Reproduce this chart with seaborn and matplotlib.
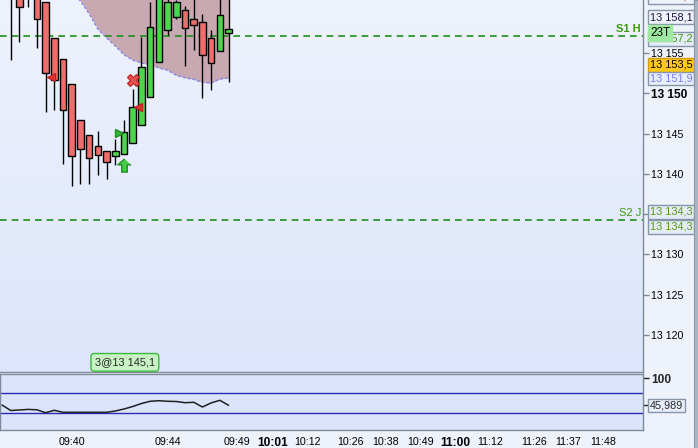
import numpy as np
import pandas as pd
import seaborn as sb
import matplotlib
matplotlib.use("Agg")
import matplotlib.pyplot as plt
from matplotlib.colors import LinearSegmentedColormap
from matplotlib.patches import Rectangle

#### data (bar index, prices)
bar_idx = list(range(26))
opens  = [13166.0, 13163.0, 13165.0, 13163.0, 13161.3, 13156.9, 13154.3, 13151.2, 13146.7, 13144.8,
          13143.5, 13142.9, 13142.2, 13142.5, 13143.8, 13146.1, 13149.6, 13153.9, 13157.9, 13159.5,
          13160.4, 13159.3, 13158.9, 13156.9, 13155.3, 13157.5]
highs  = [13167.0, 13164.0, 13166.0, 13164.0, 13161.4, 13156.9, 13154.3, 13151.2, 13146.7, 13144.8,
          13145.3, 13142.9, 13144.3, 13146.7, 13150.5, 13157.0, 13161.3, 13164.0, 13163.5, 13161.6,
          13160.9, 13162.5, 13159.9, 13157.9, 13162.5, 13162.5]
lows   = [13154.2, 13156.4, 13160.8, 13155.7, 13147.7, 13147.9, 13141.2, 13138.5, 13138.7, 13138.7,
          13139.9, 13139.4, 13141.1, 13142.5, 13143.8, 13146.1, 13149.6, 13153.9, 13157.3, 13159.3,
          13153.4, 13155.4, 13149.4, 13150.4, 13155.3, 13151.4]
closes = [13163.0, 13160.8, 13163.0, 13159.3, 13152.6, 13151.7, 13148.0, 13142.2, 13143.1, 13142.0,
          13142.4, 13141.5, 13142.9, 13145.2, 13148.3, 13153.3, 13158.2, 13163.0, 13161.3, 13161.4,
          13158.1, 13158.5, 13154.8, 13153.8, 13159.8, 13158.0]

cloud_idx = list(range(7, 26))
cloud_low = [13162.5, 13161.5, 13159.9, 13158.0, 13156.9, 13155.9, 13154.8, 13154.15, 13153.8, 13153.55,
             13153.17, 13152.9, 13152.25, 13151.95, 13151.75, 13151.38, 13151.3, 13151.8, 13151.93]

rsi_idx = list(range(-1, 26))
rsi = [46.6, 35.6, 36.6, 37.8, 37.0, 31.2, 36.0, 32.0, 32.0, 32.0, 32.0, 32.0, 32.0, 34.6, 38.6,
       43.6, 49.6, 54.0, 55.2, 54.0, 53.6, 51.2, 52.0, 42.6, 50.8, 56.0, 46.0]

s1_level = 13157.2
s2_level = 13134.3

time_pos = [7, 18, 26, 30, 34, 39, 43, 47, 51, 55, 60, 64, 68]
time_lab = ['09:40', '09:44', '09:49', '10:01', '10:12', '10:26', '10:38', '10:49', '11:00',
            '11:12', '11:26', '11:37', '11:48']
bold_times = ['10:01', '11:00']

price_ticks = [13120, 13125, 13130, 13135, 13140, 13145, 13150, 13155]
##################

df = pd.DataFrame({'idx': bar_idx, 'open': opens, 'high': highs, 'low': lows, 'close': closes})
rsi_df = pd.DataFrame({'idx': rsi_idx, 'rsi': rsi})

sb.set_style("white")
plt.rcParams['font.family'] = ['Liberation Sans', 'DejaVu Sans']

fig = plt.figure(figsize=(6.98, 4.48), dpi=100)
fig.patch.set_facecolor('#eef2fb')
fig.patches.append(Rectangle((694 / 698, 0), 4 / 698, 1, transform=fig.transFigure,
                             fc='#a9b6c3', ec='#8a98a6', lw=0.8, zorder=0))

ax = fig.add_axes([0, 76.3 / 448, 643 / 698, 371.7 / 448])
ax2 = fig.add_axes([0, 18 / 448, 643 / 698, 56 / 448])

XL = (-1.23, 72.55)
YL = (13115.44, 13161.61)

# background gradient
bg = LinearSegmentedColormap.from_list('bg', ['#dce5fb', '#eef2fc'])
ax.imshow(np.linspace(0, 1, 256).reshape(-1, 1), extent=[0, 1, 0, 1], transform=ax.transAxes,
          cmap=bg, aspect='auto', origin='lower', zorder=0)

# cloud
ax.fill_between(cloud_idx, cloud_low, 13175, color='#c9a9b1', lw=0, zorder=1)
ax.plot(cloud_idx, cloud_low, color='#8484f0', lw=1, ls=(0, (2, 1.5)), zorder=1.2)

# support lines
ax.axhline(s1_level, color='#1c8f1c', lw=1.2, ls=(0, (4, 3)), zorder=2)
ax.axhline(s2_level, color='#1c8f1c', lw=1.2, ls=(0, (4, 3)), zorder=2)

# candles
up = df['close'] >= df['open']
ax.vlines(df['idx'], df['low'], df['high'], color='black', lw=1, zorder=3)
ax.bar(df['idx'], (df['close'] - df['open']).abs(), bottom=df[['open', 'close']].min(axis=1),
       width=0.76, color=np.where(up, '#4dd64d', '#ee6d6d'), edgecolor='black', lw=1, zorder=4)

# trade markers
ax.plot([4.6], [13152.1], marker='<', ms=6, color='#e03333', mec='#c02020', ls='none', zorder=5)
ax.plot([14.55], [13148.3], marker='<', ms=6, color='#e03333', mec='#c02020', ls='none', zorder=5)
ax.plot([12.45], [13145.1], marker='>', ms=6, color='#33b833', mec='#1f8f1f', ls='none', zorder=5)
ax.plot([14], [13151.7], marker='X', ms=8.5, color='#ea4f4f', mec='#b82020', mew=0.8, ls='none', zorder=5)
arrow = [(0, 1), (-1, 0.1), (-0.42, 0.1), (-0.42, -1), (0.42, -1), (0.42, 0.1), (1, 0.1)]
ax.plot([13], [13141.1], marker=arrow, ms=9.5, color='#46cc46', mec='#1f8f1f', mew=1, ls='none', zorder=5)

ax.text(13.1, 13116.6, '3@13 145,1', fontsize=7.9, ha='center', va='center', zorder=6,
        bbox=dict(boxstyle='round,pad=0.35,rounding_size=0.3', fc='#c8f2c4', ec='#3cb83c', lw=1))

ax.set_xlim(*XL)
ax.set_ylim(*YL)
ax.set_xticks([])
ax.yaxis.tick_right()
ax.set_yticks(price_ticks, [f"{v // 1000} {v % 1000:03d}" for v in price_ticks])
for t, v in zip(ax.get_yticklabels(), price_ticks):
    t.set_fontsize(8.6 if v == 13150 else 7.7)
    if v == 13150:
        t.set_fontweight('bold')
ax.tick_params(axis='y', length=4, width=1, color='#7d8a98', pad=2, labelcolor='black')
for s in ['left', 'top']:
    ax.spines[s].set_visible(False)
for s in ['right', 'bottom']:
    ax.spines[s].set_color('#7d8a98')
    ax.spines[s].set_linewidth(1)

# labels on the support lines
ax.text(641 / 643, 13158.0, 'S1 H', transform=ax.get_yaxis_transform(), ha='right', va='center',
        fontsize=8, fontweight='bold', color='#3a9a10', zorder=6)
ax.text(641 / 643, 13135.2, 'S2 J', transform=ax.get_yaxis_transform(), ha='right', va='center',
        fontsize=8, color='#3a9a10', zorder=6)

# price boxes on the right scale
yt = ax.get_yaxis_transform()
def box(y, s, fc, tc, ec='#8796a6'):
    ax.text(650 / 643, y, s, transform=yt, ha='left', va='center', fontsize=7.8, color=tc,
            clip_on=False, zorder=7,
            bbox=dict(boxstyle='square,pad=0.16', fc=fc, ec=ec, lw=1))

box(13162.0, '13 160,9', '#eef2fb', '#d02020')
box(13159.48, '13 158,1', '#eef2fb', '#201040')
box(13156.77, '13 157,2', '#e4ebf7', '#3a9a10')
ax.text(650 / 643, 13157.52, '23T', transform=yt, ha='left', va='center', fontsize=8.5,
        color='black', clip_on=False, zorder=8,
        bbox=dict(boxstyle='square,pad=0.2', fc='#9fe89f', ec='#9fe89f', lw=1))
box(13153.54, '13 153,5', '#ffc81a', 'black', ec='#d89a00')
box(13151.83, '13 151,9', '#e8eefa', '#7a7aff')
box(13135.28, '13 134,3', '#e4ebf7', '#5a9a10')
box(13133.42, '13 134,3', '#e4ebf7', '#5a9a10')

# RSI panel
ax2.set_facecolor('#dbe4fb')
ax2.axhline(70, color='#2b2bb0', lw=1)
ax2.axhline(30, color='#2b2bb0', lw=1)
sb.lineplot(data=rsi_df, x='idx', y='rsi', color='#202020', lw=1.1, ax=ax2)
ax2.set_xlim(*XL)
ax2.set_ylim(-3.4, 108.6)
ax2.set_xlabel('')
ax2.set_ylabel('')
ax2.yaxis.tick_right()
ax2.set_yticks([100, 45.989], ['100', ''])
ax2.get_yticklabels()[0].set_fontweight('bold')
ax2.get_yticklabels()[0].set_fontsize(8.6)
ax2.tick_params(axis='y', length=4, width=1, color='#222222', pad=2)
ax2.text(650 / 643, 45.989, '45,989', transform=ax2.get_yaxis_transform(), ha='left',
         va='center', fontsize=7.8, clip_on=False,
         bbox=dict(boxstyle='square,pad=0.16', fc='#e8eefa', ec='#8796a6', lw=1))
ax2.set_xticks(time_pos, time_lab)
for t in ax2.get_xticklabels():
    if t.get_text() in bold_times:
        t.set_fontweight('bold')
        t.set_fontsize(8.6)
    else:
        t.set_fontsize(7.7)
ax2.tick_params(axis='x', length=4, width=1, color='#7d8a98', pad=1, labelcolor='black')
for s in ax2.spines.values():
    s.set_visible(True)
    s.set_color('#7d8a98')
    s.set_linewidth(1)

fig.savefig('out.png', dpi=100, facecolor=fig.get_facecolor())
